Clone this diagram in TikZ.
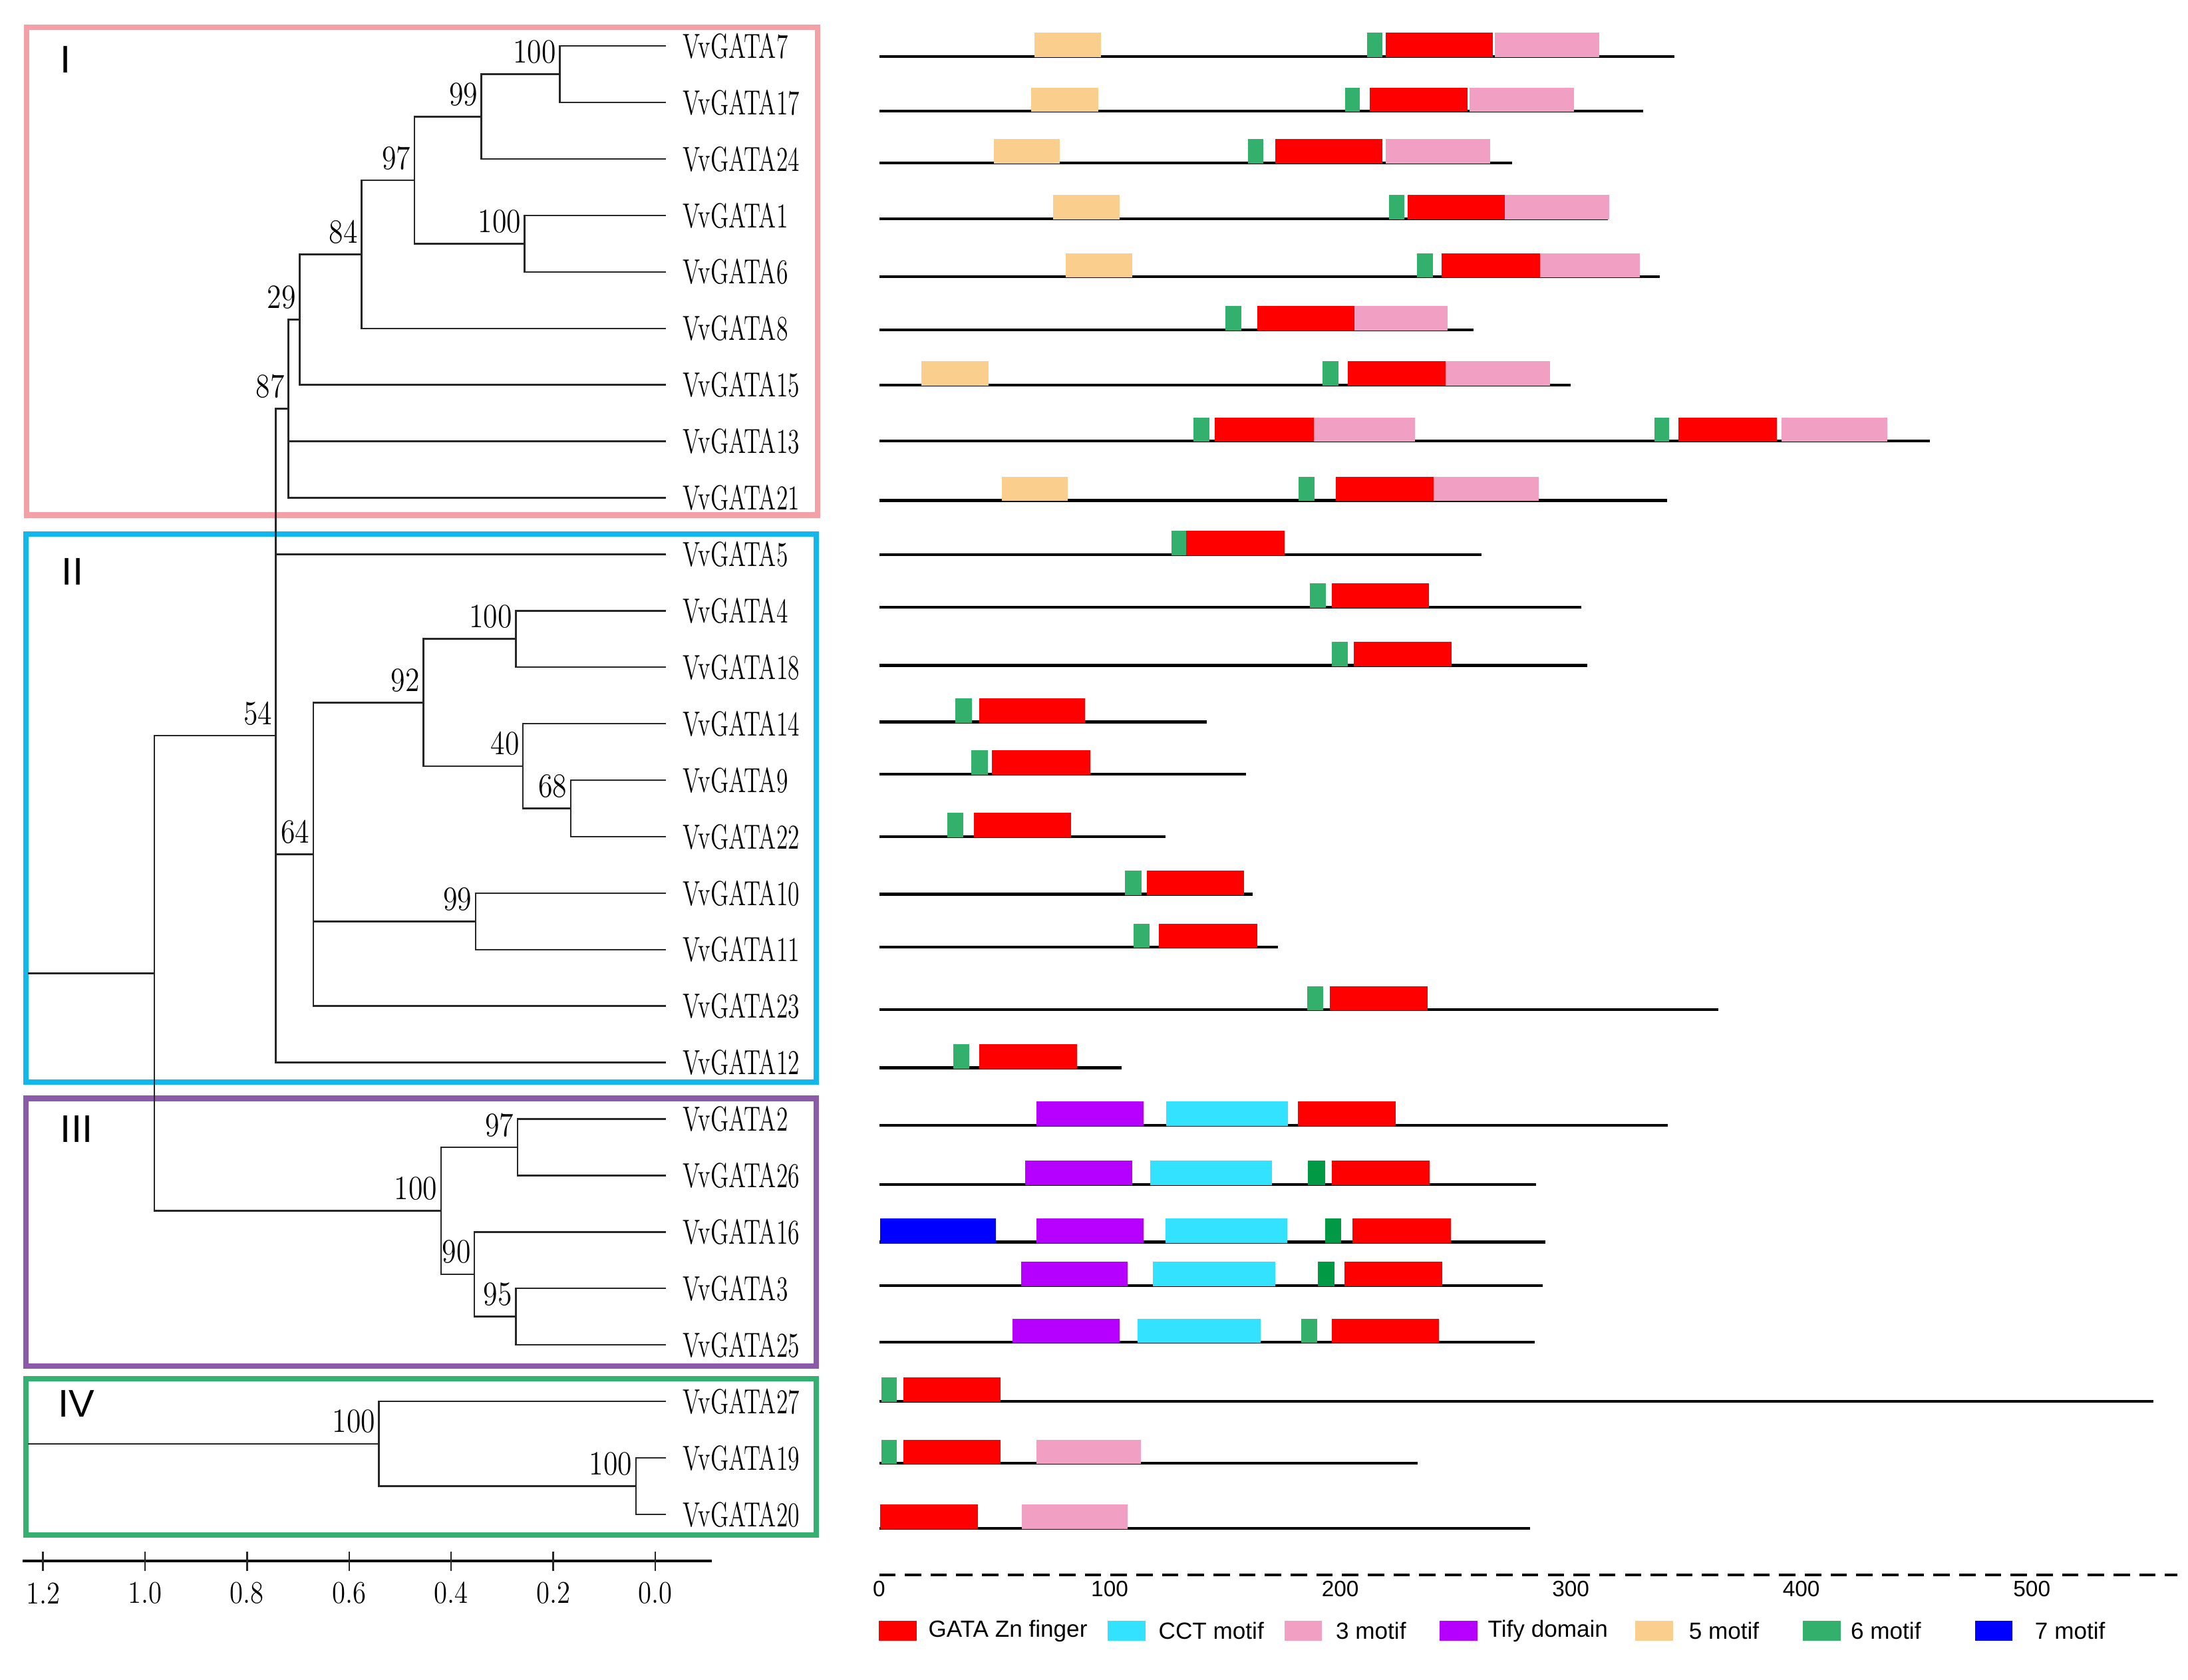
\documentclass[tikz,border=0pt]{standalone}
\usepackage{fontspec}
\usepackage{graphicx}
\newfontfamily\legfont{Liberation Sans}

\definecolor{zincred}{RGB}{255,0,0}
\definecolor{cctblue}{RGB}{51,226,255}
\definecolor{motpink}{RGB}{241,160,196}
\definecolor{tifypurple}{RGB}{181,0,255}
\definecolor{motorange}{RGB}{250,206,140}
\definecolor{motgreen}{RGB}{50,176,108}
\definecolor{motdkgreen}{RGB}{0,154,68}
\definecolor{motblue}{RGB}{0,0,255}
\definecolor{boxpink}{RGB}{243,161,166}
\definecolor{boxcyan}{RGB}{18,183,235}
\definecolor{boxpurple}{RGB}{139,90,168}
\definecolor{boxgreen}{RGB}{52,176,112}

\newcommand{\gname}[1]{\scalebox{0.68}[1]{VvGATA#1}}
\newcommand{\bsv}[1]{\scalebox{0.86}[1]{#1}}
\newcommand{\protrow}[2]{\draw[protline] (0,#1) -- (#2,#1);}
\newcommand{\motbox}[4]{\fill[#1] (#3,#2-17) rectangle (#4,#2+0.5);}

\begin{document}
\begin{tikzpicture}[x=0.2098mm, y=-0.2098mm]
	\tikzset{gene/.style={anchor=west, inner sep=0pt, font=\fontsize{14.9}{15}\selectfont},
	boot/.style={anchor=east, inner sep=0pt, yshift=3.36mm, xshift=-0.5mm, font=\fontsize{14.5}{15}\selectfont},
	branch/.style={line width=0.7pt, black!85},
	frame/.style={line width=2.4pt},
	clade/.style={anchor=west, inner sep=0pt, font=\legfont\fontsize{16.5}{17}\selectfont},
	protline/.style={line width=1.2pt},
	dashaxis/.style={line width=1.2pt, dash pattern=on 7pt off 4pt},
	aanum/.style={inner sep=0pt, font=\legfont\fontsize{9.5}{10}\selectfont},
	legtext/.style={anchor=west, inner sep=0pt, font=\legfont\fontsize{10}{11}\selectfont},
	zinc/.style={fill=zincred}, cct/.style={fill=cctblue}, mot3/.style={fill=motpink},
	tify/.style={fill=tifypurple}, mot5/.style={fill=motorange}, mot6/.style={fill=motgreen},
	mot6d/.style={fill=motdkgreen}, mot7/.style={fill=motblue}};

	\useasboundingbox (0,0) rectangle (1568,1204);

	\draw[frame, boxpink] (19,19.5) rectangle (586,369.2);
	\draw[frame, boxcyan] (18.6,382.8) rectangle (585,775.6);
	\draw[frame, boxpurple] (18.6,787.4) rectangle (585,979.2);
	\draw[frame, boxgreen] (18.6,988.3) rectangle (585,1100.3);
	\node[clade] (cI) at (43,42.6) {I};
	\node[clade] (cII) at (44,410) {II};
	\node[clade] (cIII) at (43,809.5) {III};
	\node[clade] (cIV) at (41.5,1006) {IV};

	\foreach \g [count=\i from 0] in {7,17,24,1,6,8,15,13,21,5,4,18,14,9,22,10,11,23,12,2,26,16,3,25,27,19,20}{
		\coordinate (l\g) at (477, 33+40.48*\i);
		\node[gene] (n\g) at (489, 33+40.48*\i) {\gname{\g}};
	}

	\coordinate (a100) at (401.2,53.2);
	\coordinate (a99) at (345,83.6);
	\coordinate (a100b) at (376,174.7);
	\coordinate (a97) at (296.9,129.2);
	\coordinate (a84) at (259,182.3);
	\coordinate (a29) at (214.7,229.1);
	\coordinate (a87) at (206.7,293);
	\coordinate (a54) at (197.7,527.3);
	\coordinate (b100) at (369.7,458);
	\coordinate (b92) at (303.5,503.6);
	\coordinate (b40) at (374.8,549.1);
	\coordinate (b68) at (409,579.5);
	\coordinate (b99) at (340.8,660.5);
	\coordinate (b64) at (224.5,612.4);
	\coordinate (c97) at (370.8,822.4);
	\coordinate (c95) at (369.6,943.8);
	\coordinate (c90) at (340,913.5);
	\coordinate (c100) at (316,868);
	\coordinate (root) at (110.7,697.6);
	\coordinate (rstem) at (19.8,697.6);
	\coordinate (d100b) at (455.8,1065.2);
	\coordinate (d100) at (271.6,1034.9);
	\coordinate (dstem) at (19.8,1034.9);

	\foreach \p/\c in {a100/l7, a100/l17, a99/a100, a99/l24, a100b/l1, a100b/l6, a97/a99, a97/a100b,
		a84/a97, a84/l8, a29/a84, a29/l15, a87/a29, a87/l13, a87/l21, a54/a87, a54/l5, a54/b64, a54/l12,
		b100/l4, b100/l18, b68/l9, b68/l22, b40/l14, b40/b68, b92/b100, b92/b40, b99/l10, b99/l11,
		b64/b92, b64/b99, b64/l23, c97/l2, c97/l26, c95/l3, c95/l25, c90/l16, c90/c95, c100/c97, c100/c90,
		root/a54, root/c100, d100b/l19, d100b/l20, d100/l27, d100/d100b}
		\draw[branch] (\p) |- (\c);
	\draw[branch] (rstem) -- (root);
	\draw[branch] (dstem) -- (d100);

	\foreach \p/\v in {a100/100, a99/99, a100b/100, a97/97, a84/84, a29/29, a87/87, a54/54,
		b100/100, b92/92, b40/40, b68/68, b99/99, b64/64, c97/97, c95/95, c90/90, c100/100,
		d100/100, d100b/100}
		\node[boot] (bs\p) at (\p) {\bsv{\v}};

	\draw[line width=1pt] (16,1119) -- (510,1119);
	\foreach \v [count=\k from 0] in {0.0,0.2,0.4,0.6,0.8,1.0,1.2}{
		\draw[branch] (469.6-73.13*\k,1112) -- (469.6-73.13*\k,1126);
		\node[inner sep=0pt, font=\fontsize{13.5}{14}\selectfont] (sc\k) at (469.6-73.13*\k,1142) {\bsv{\v}};
	}

	\begin{scope}[xshift=132.17mm, x=0.3466mm]
		\protrow{40.6}{345}
		\motbox{mot5}{40.6}{67.4}{96.3}
		\motbox{mot6}{40.6}{211.7}{218.3}
		\motbox{zinc}{40.6}{219.7}{266.2}
		\motbox{mot3}{40.6}{267}{312.4}

		\protrow{79.8}{331.4}
		\motbox{mot5}{79.8}{66}{95}
		\motbox{mot6}{79.8}{202}{208.4}
		\motbox{zinc}{79.8}{212.8}{255.2}
		\motbox{mot3}{79.8}{256}{301.4}

		\protrow{116.7}{274.7}
		\motbox{mot5}{116.7}{49.8}{78.4}
		\motbox{mot6}{116.7}{160}{166.6}
		\motbox{zinc}{116.7}{171.7}{218.3}
		\motbox{mot3}{116.7}{219.7}{265.1}

		\protrow{156.9}{316}
		\motbox{mot5}{156.9}{75.4}{104.4}
		\motbox{mot6}{156.9}{221.2}{227.8}
		\motbox{zinc}{156.9}{229.2}{271.4}
		\motbox{mot3}{156.9}{271.4}{316.8}

		\protrow{198.5}{338.7}
		\motbox{mot5}{198.5}{80.9}{109.9}
		\motbox{mot6}{198.5}{233.3}{240.2}
		\motbox{zinc}{198.5}{243.9}{286.7}
		\motbox{mot3}{198.5}{286.7}{329.9}

		\protrow{236.4}{257.8}
		\motbox{mot6}{236.4}{150.1}{157.1}
		\motbox{zinc}{236.4}{164.1}{206.2}
		\motbox{mot3}{236.4}{206.2}{246.5}

		\protrow{276}{299.9}
		\motbox{mot5}{276}{18.3}{47.6}
		\motbox{mot6}{276}{192.2}{199.2}
		\motbox{zinc}{276}{203.2}{245.7}
		\motbox{mot3}{276}{245.7}{291.1}

		\protrow{316.2}{455.9}
		\motbox{mot6}{316.2}{136.2}{143.2}
		\motbox{zinc}{316.2}{145.7}{188.6}
		\motbox{mot3}{316.2}{188.6}{232.5}
		\motbox{mot6}{316.2}{336.2}{342.8}
		\motbox{zinc}{316.2}{346.8}{389.3}
		\motbox{mot3}{316.2}{391.5}{437.2}

		\protrow{358.7}{341.7}
		\motbox{mot5}{358.7}{53.1}{81.7}
		\motbox{mot6}{358.7}{182}{189}
		\motbox{zinc}{358.7}{198.1}{240.6}
		\motbox{mot3}{358.7}{240.6}{286}

		\protrow{397.5}{261.3}
		\motbox{mot6}{397.5}{126.8}{133.2}
		\motbox{zinc}{397.5}{133.2}{176}

		\protrow{435.1}{304.6}
		\motbox{mot6}{435.1}{186.8}{193.8}
		\motbox{zinc}{435.1}{196.4}{238.6}

		\protrow{477}{307.2}
		\motbox{mot6}{477}{196.4}{203.3}
		\motbox{zinc}{477}{205.9}{248.2}

		\protrow{517.5}{142}
		\motbox{mot6}{517.5}{33}{40.2}
		\motbox{zinc}{517.5}{43.5}{89.4}

		\protrow{555}{159}
		\motbox{mot6}{555}{39.9}{47.1}
		\motbox{zinc}{555}{49}{91.5}

		\protrow{599.6}{124.2}
		\motbox{mot6}{599.6}{29.6}{36.6}
		\motbox{zinc}{599.6}{41}{83.2}

		\protrow{641}{162.1}
		\motbox{mot6}{641}{106.7}{113.9}
		\motbox{zinc}{641}{116}{158.2}

		\protrow{679}{172.9}
		\motbox{mot6}{679}{110.3}{117.2}
		\motbox{zinc}{679}{121.4}{163.9}

		\protrow{723.8}{363.9}
		\motbox{mot6}{723.8}{185.8}{192.7}
		\motbox{zinc}{723.8}{195.6}{237.8}

		\protrow{765.4}{105.1}
		\motbox{mot6}{765.4}{32.2}{39.2}
		\motbox{zinc}{765.4}{43.5}{85.8}

		\protrow{806.6}{342}
		\motbox{tify}{806.6}{68.1}{114.6}
		\motbox{cct}{806.6}{124.5}{177.2}
		\motbox{zinc}{806.6}{181.6}{224.1}

		\protrow{849}{284.9}
		\motbox{tify}{849}{63.3}{109.9}
		\motbox{cct}{849}{117.5}{170.3}
		\motbox{mot6d}{849}{186}{193.4}
		\motbox{zinc}{849}{196.3}{238.8}

		\protrow{890.3}{289}
		\motbox{mot7}{890.3}{0.4}{50.5}
		\motbox{tify}{890.3}{68.1}{114.6}
		\motbox{cct}{890.3}{124.1}{176.9}
		\motbox{mot6d}{890.3}{193.4}{200.3}
		\motbox{zinc}{890.3}{205.4}{247.9}

		\protrow{921.6}{287.8}
		\motbox{tify}{921.6}{61.5}{107.7}
		\motbox{cct}{921.6}{118.6}{171.7}
		\motbox{mot6d}{921.6}{190.4}{197.4}
		\motbox{zinc}{921.6}{201.8}{244.3}

		\protrow{962.2}{284.5}
		\motbox{tify}{962.2}{57.9}{104.4}
		\motbox{cct}{962.2}{112}{165.5}
		\motbox{mot6}{962.2}{183.1}{190}
		\motbox{zinc}{962.2}{196.3}{242.8}

		\protrow{1004.5}{552.6}
		\motbox{mot6}{1004.5}{1.1}{7.7}
		\motbox{zinc}{1004.5}{10.6}{52.7}

		\protrow{1049}{233.6}
		\motbox{mot6}{1049}{1.1}{7.7}
		\motbox{zinc}{1049}{10.6}{52.7}
		\motbox{mot3}{1049}{68.1}{113.5}

		\protrow{1095.4}{282.3}
		\motbox{zinc}{1095.4}{0.4}{42.8}
		\motbox{mot3}{1095.4}{61.9}{107.7}

		\draw[dashaxis] (0,1129) -- (563,1129);
		\foreach \t in {0,100,...,500}
			\node[aanum] (aa\t) at (\t,1139) {\t};
	\end{scope}

	\foreach \c/\xb/\xt/\txt in {zincred/630/665/GATA Zn finger, cctblue/794/830/CCT motif,
		motpink/920.4/957/3 motif, tifypurple/1031.7/1066/Tify domain, motorange/1172/1210/5 motif,
		motgreen/1291.9/1326/6 motif, motblue/1415.3/1458/7 motif}{
		\fill[\c] (\xb,1162) rectangle +(27,14);
		\node[legtext] (lg\xb) at (\xt,1169) {\txt};
	}
\end{tikzpicture}
\end{document}
